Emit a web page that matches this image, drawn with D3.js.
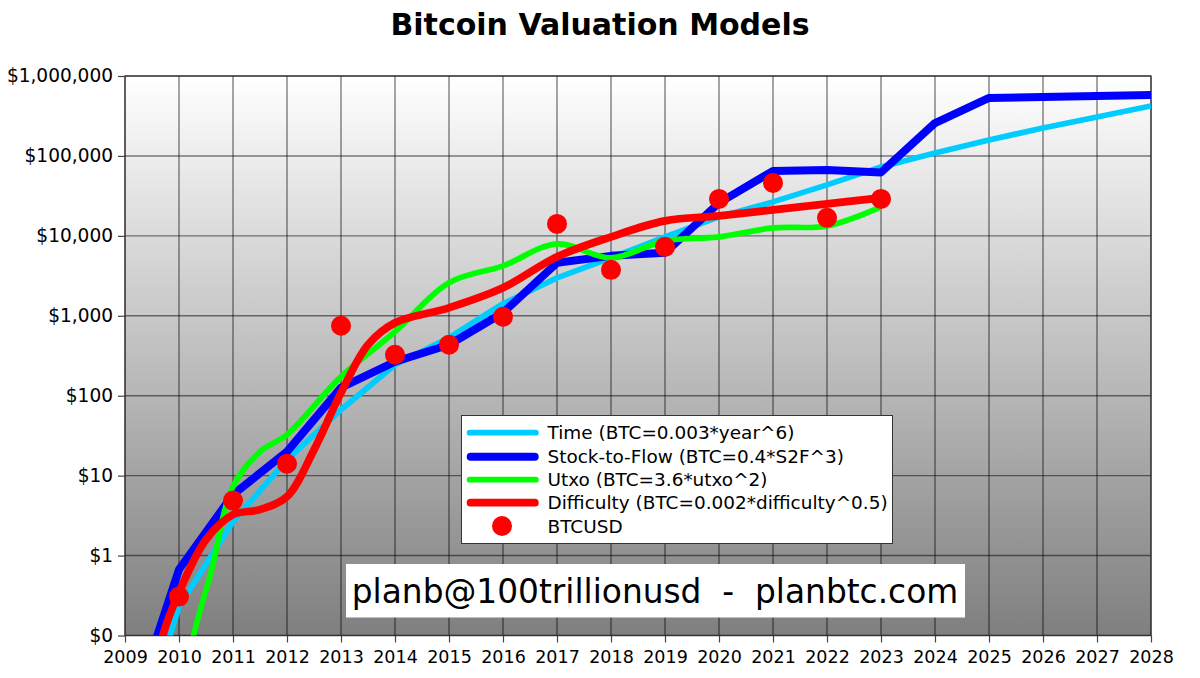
<!DOCTYPE html>
<html>
<head>
<meta charset="utf-8">
<script src="https://cdn.jsdelivr.net/npm/d3@7"></script>
<style>
  html, body { margin: 0; padding: 0; background: #fff; }
  svg { display: block; }
  text { font-family: "DejaVu Sans", sans-serif; fill: #000; }
</style>
</head>
<body>
<svg id="chart" width="1200" height="678"></svg>
<script>
// values
var yearTicks = d3.range(2009, 2029);
var priceTicks = [0.1, 1, 10, 100, 1000, 10000, 100000, 1000000];
var priceLabels = ["$0", "$1", "$10", "$100", "$1,000", "$10,000", "$100,000", "$1,000,000"];

var timeYears = [2009.7, 2010, 2011, 2012, 2013, 2014, 2015, 2016, 2017, 2018, 2019, 2020, 2021, 2022, 2023, 2024, 2025, 2026, 2027, 2028];
var timeValues = [0.05, 0.23, 2.66, 15.8, 66.8, 244, 531, 1413, 2985, 5309, 9716, 17280, 26600, 43400, 72900, 109000, 158000, 224000, 307000, 422000];

var s2fYears = [2009.5, 2010, 2011, 2012, 2013, 2014, 2015, 2016, 2017, 2018, 2019, 2020, 2021, 2022, 2023, 2024, 2025, 2026, 2027, 2028];
var s2fValues = [0.063, 0.67, 5.79, 20, 126, 266, 434, 1090, 4600, 5620, 6130, 25900, 64900, 66800, 62200, 258000, 531000, 546000, 562000, 579000];

var utxoYears = [2010, 2010.27, 2010.59, 2011, 2011.5, 2012, 2013, 2014, 2015, 2016, 2017, 2018, 2019, 2020, 2021, 2022, 2023];
var utxoValues = [0.009, 0.1, 0.61, 7.29, 20, 32.6, 173, 631, 2585, 4217, 7943, 5309, 8660, 9716, 12600, 13300, 23000];

var diffYears = [2009.6, 2009.7, 2010, 2010.5, 2011, 2011.5, 2012, 2012.5, 2013, 2013.5, 2014, 2015, 2016, 2017, 2018, 2019, 2020, 2021, 2022, 2023];
var diffValues = [0.044, 0.1, 0.345, 1.58, 3.25, 3.76, 5.46, 21, 109, 434, 818, 1259, 2239, 5464, 9716, 15400, 17800, 21100, 25100, 29900];

var btcYears = [2010, 2011, 2012, 2013, 2014, 2015, 2016, 2017, 2018, 2019, 2020, 2021, 2022, 2023];
var btcValues = [0.307, 4.87, 14.1, 750, 325, 434, 972, 14100, 3758, 7286, 29000, 46000, 16800, 29000];

var legendLabels = [
  "Time (BTC=0.003*year^6)",
  "Stock-to-Flow (BTC=0.4*S2F^3)",
  "Utxo (BTC=3.6*utxo^2)",
  "Difficulty (BTC=0.002*difficulty^0.5)",
  "BTCUSD"
];

var left = 125, right = 1151, top_ = 76, bottom = 635.5;

var x = d3.scaleLinear().domain([2009, 2028]).range([left, right]);
var y = d3.scaleLog().domain([0.1, 1000000]).range([bottom, top_]);

var svg = d3.select("#chart");

// plot background, white fading to grey
var defs = svg.append("defs");
var grad = defs.append("linearGradient")
  .attr("id", "bg").attr("x1", 0).attr("y1", 0).attr("x2", 0).attr("y2", 1);
grad.append("stop").attr("offset", "0%").attr("stop-color", "#ffffff");
grad.append("stop").attr("offset", "100%").attr("stop-color", "#7f7f7f");

defs.append("clipPath").attr("id", "plot")
  .append("rect")
  .attr("x", left).attr("y", top_)
  .attr("width", right - left).attr("height", bottom - top_);

svg.append("rect")
  .attr("x", left).attr("y", top_)
  .attr("width", right - left).attr("height", bottom - top_)
  .attr("fill", "url(#bg)");

// grid
svg.append("g").selectAll("line").data(yearTicks).join("line")
  .attr("x1", d => x(d)).attr("x2", d => x(d))
  .attr("y1", top_).attr("y2", bottom)
  .attr("stroke", "#000").attr("stroke-opacity", 0.5).attr("stroke-width", 1.4);
svg.append("g").selectAll("line").data(priceTicks).join("line")
  .attr("x1", left).attr("x2", right)
  .attr("y1", d => y(d)).attr("y2", d => y(d))
  .attr("stroke", "#000").attr("stroke-opacity", 0.5).attr("stroke-width", 1.4);

// axes
var xAxis = d3.axisBottom(x).tickValues(yearTicks).tickFormat(d3.format("d")).tickSize(7).tickSizeOuter(0);
var yAxis = d3.axisLeft(y).tickValues(priceTicks).tickFormat((d, i) => priceLabels[i]).tickSize(7).tickSizeOuter(0);

var gx = svg.append("g").attr("transform", "translate(0," + bottom + ")").call(xAxis);
var gy = svg.append("g").attr("transform", "translate(" + left + ",0)").call(yAxis);
[gx, gy].forEach(g => {
  g.select(".domain").remove();
  g.selectAll("line").attr("stroke", "#444").attr("stroke-width", 1.2);
});
gx.selectAll("text").attr("y", 15).style("font-size", "17.5px");
gy.selectAll("text").attr("x", -12).style("font-size", "18.55px");

svg.append("rect")
  .attr("x", left).attr("y", top_)
  .attr("width", right - left).attr("height", bottom - top_)
  .attr("fill", "none").attr("stroke", "#333").attr("stroke-width", 1.2);

// series
function drawLine(years, values, color, width, curve) {
  var line = d3.line()
    .x((d, i) => x(years[i]))
    .y(d => y(d))
    .curve(curve);
  svg.append("path")
    .datum(values)
    .attr("d", line)
    .attr("fill", "none")
    .attr("stroke", color)
    .attr("stroke-width", width)
    .attr("stroke-linejoin", "round")
    .attr("clip-path", "url(#plot)");
}

drawLine(timeYears, timeValues, "#00ccff", 5.7, d3.curveLinear);
drawLine(s2fYears, s2fValues, "#0000ff", 8, d3.curveLinear);
drawLine(utxoYears, utxoValues, "#00ff00", 5.7, d3.curveCatmullRom);
drawLine(diffYears, diffValues, "#ff0000", 7.7, d3.curveCatmullRom);

svg.append("g").selectAll("circle").data(btcValues).join("circle")
  .attr("cx", (d, i) => x(btcYears[i]))
  .attr("cy", d => y(d))
  .attr("r", 10)
  .attr("fill", "#ff0000");

// legend
var legend = svg.append("g");
legend.append("rect")
  .attr("x", 461.5).attr("y", 415.5).attr("width", 431).attr("height", 128)
  .attr("fill", "#fff").attr("stroke", "#333").attr("stroke-width", 1);

var legendColors = ["#00ccff", "#0000ff", "#00ff00", "#ff0000"];
var legendWidths = [5.7, 8, 5.7, 7.7];
var legendY = [432.7, 456.7, 479.7, 502.7, 526];

legendColors.forEach((c, i) => {
  legend.append("line")
    .attr("x1", 466.7 + legendWidths[i] / 2).attr("x2", 538.7 - legendWidths[i] / 2)
    .attr("y1", legendY[i]).attr("y2", legendY[i])
    .attr("stroke", c).attr("stroke-width", legendWidths[i]).attr("stroke-linecap", "round");
});
legend.append("circle")
  .attr("cx", 502).attr("cy", legendY[4]).attr("r", 10).attr("fill", "#ff0000");
legend.selectAll("text").data(legendLabels).join("text")
  .attr("x", 547.5)
  .attr("y", (d, i) => legendY[i])
  .attr("dy", "0.36em")
  .style("font-size", "18.45px")
  .text(d => d);

// watermark
svg.append("rect")
  .attr("x", 346).attr("y", 564).attr("width", 619).attr("height", 53.5)
  .attr("fill", "#fff");
svg.append("text")
  .attr("x", 655).attr("y", 591)
  .attr("dy", "0.36em")
  .attr("text-anchor", "middle")
  .style("font-size", "32.85px")
  .style("white-space", "pre")
  .text("planb@100trillionusd  -  planbtc.com");

// title
svg.append("text")
  .attr("x", 600).attr("y", 24)
  .attr("dy", "0.36em")
  .attr("text-anchor", "middle")
  .style("font-size", "30px")
  .style("font-weight", "bold")
  .text("Bitcoin Valuation Models");
</script>
</body>
</html>
